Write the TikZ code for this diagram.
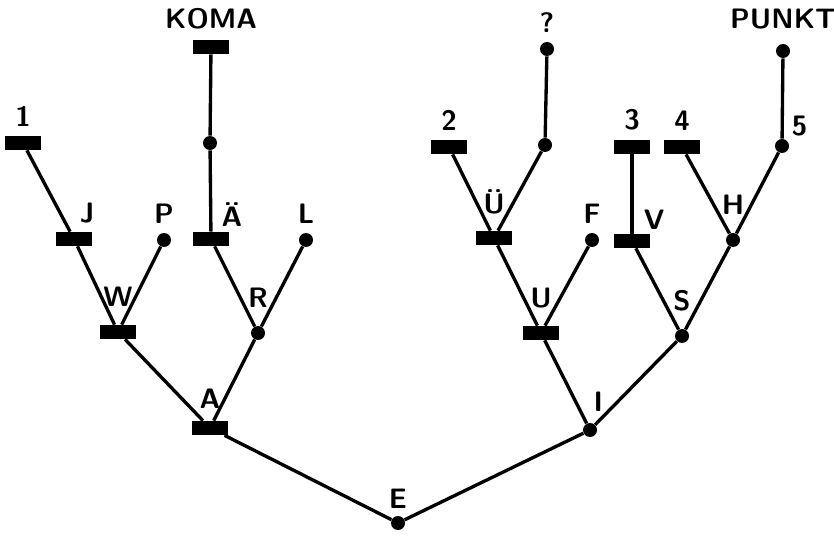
\documentclass[tikz,border=0pt]{standalone}
\usepackage{fontspec}
\usepackage{tikz}
\usetikzlibrary{positioning}

\tikzset{
	bar/.style={rectangle, fill=black, minimum width=0.72cm, minimum height=0.28cm, inner sep=0pt},
	dot/.style={circle, fill=black, minimum size=0.28cm, inner sep=0pt},
	lbl/.style={font=\sffamily\bfseries\fontsize{16}{16}\selectfont, inner sep=1pt},
	branch/.style={line width=1.9pt},
	every label/.style={lbl, label distance=6pt}
}

\begin{document}
\begin{tikzpicture}[x=0.02cm, y=-0.02cm]
				\useasboundingbox (0,0) rectangle (834,540);
				% root and first level
				\node[dot, label={[label distance=3pt]above:E}] (E) at (398,523) {};
				\node[bar, label={[label distance=6pt]above:A}] (A) at (210,428) {};
				\node[dot, label={[label distance=5pt]85:I}] (I) at (590,430) {};
				
				% second level
				\node[bar, label={[label distance=9pt]above:W}] (W) at (118,332) {};
				\node[dot, label={[label distance=9pt]above:R}] (R) at (258,333) {};
				\node[bar, label={[label distance=9pt]above:U}] (U) at (541,333) {};
				\node[dot, label={[label distance=9pt]above:S}] (S) at (682,336) {};
				
				% third level
				\node[bar, label={[label distance=4pt]75:J}] (J) at (74,239) {};
				\node[dot, label={[label distance=4pt]above:P}] (P) at (164,240) {};
				\node[bar, label={[label distance=2pt]50:\"A}] (AE) at (211,239) {};
				\node[dot, label={[label distance=4pt]above:L}] (L) at (306,240) {};
				\node[bar, label={[label distance=8pt]above:\"U}] (UE) at (494,238) {};
				\node[dot, label={[label distance=4pt]above:F}] (F) at (592,240) {};
				\node[bar, label={[label distance=2pt]45:V}] (V) at (632,241) {};
				\node[dot, label={[label distance=9pt]above:H}] (H) at (733,240) {};
				
				% fourth level
				\node[bar, label={[label distance=4pt]above:1}] (n1) at (23,143) {};
				\node[dot] (k1) at (210,143) {};
				\node[bar, label={[label distance=4pt]above:2}] (n2) at (449,147) {};
				\node[dot] (q1) at (545,145) {};
				\node[bar, label={[label distance=4pt]above:3}] (n3) at (632,147) {};
				\node[bar, label={[label distance=4pt]above:4}] (n4) at (682,147) {};
				\node[dot, label={[label distance=2pt]45:5}] (n5) at (782,146) {};
				
				% top
				\node[bar, label={[label distance=5pt]above:KOMA}] (KOMA) at (211,47) {};
				\node[dot, label={[label distance=4pt]above:?}] (Q) at (547,49) {};
				\node[dot, label={[label distance=7pt]above:PUNKT}] (PUNKT) at (783,51) {};
				
				\draw[branch] (E) -- (A);
				\draw[branch] (E) -- (I);
				\draw[branch] (A) -- (W);
				\draw[branch] (A) -- (R);
				\draw[branch] (I) -- (U);
				\draw[branch] (I) -- (S);
				\draw[branch] (W) -- (J);
				\draw[branch] (W) -- (P);
				\draw[branch] (R) -- (AE);
				\draw[branch] (R) -- (L);
				\draw[branch] (U) -- (UE);
				\draw[branch] (U) -- (F);
				\draw[branch] (S) -- (V);
				\draw[branch] (S) -- (H);
				\draw[branch] (J) -- (n1);
				\draw[branch] (AE) -- (k1);
				\draw[branch] (k1) -- (KOMA);
				\draw[branch] (UE) -- (n2);
				\draw[branch] (UE) -- (q1);
				\draw[branch] (q1) -- (Q);
				\draw[branch] (V) -- (n3);
				\draw[branch] (H) -- (n4);
				\draw[branch] (H) -- (n5);
				\draw[branch] (n5) -- (PUNKT);
			\end{tikzpicture}
\end{document}
